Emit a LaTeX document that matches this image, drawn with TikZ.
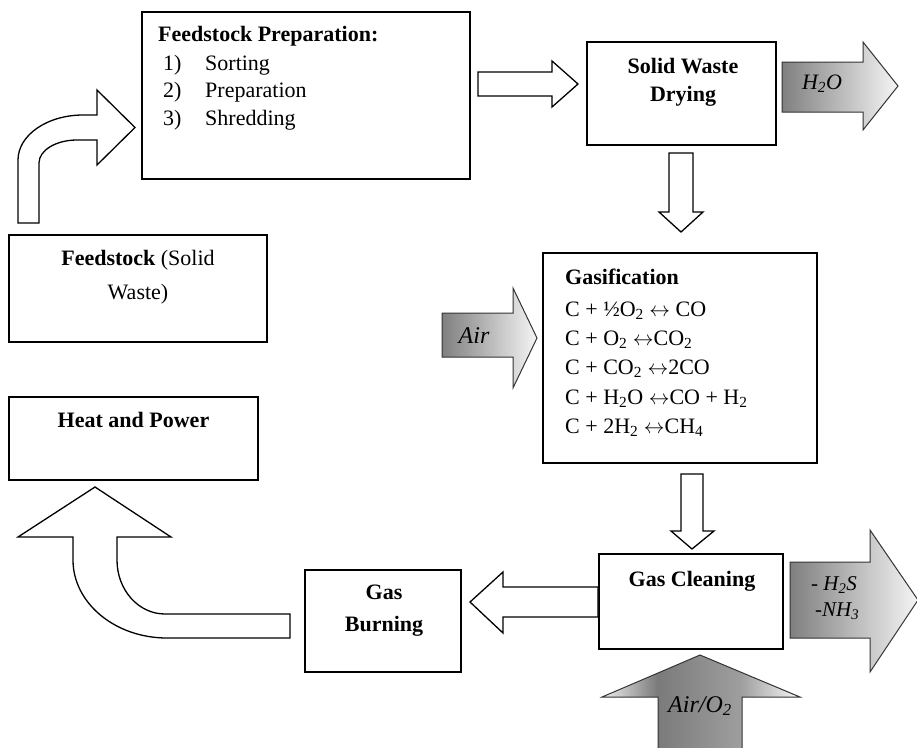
\documentclass[tikz,border=0pt]{standalone}
\usepackage{fontspec}
\setmainfont{Liberation Serif}
\pgfdeclarehorizontalshading{sideshade}{100bp}{color(0bp)=(black!50); color(25bp)=(black!50); color(75bp)=(black!4); color(100bp)=(black!4)}
\pgfdeclarehorizontalshading{airoshade}{100bp}{color(0bp)=(black!6); color(25bp)=(black!6); color(39bp)=(black!52); color(60bp)=(black!38); color(75bp)=(black!3); color(100bp)=(black!3)}
\newcommand\lra{$\leftrightarrow$}
\begin{document}
\begin{tikzpicture}[x=1pt,y=-1pt,
  box/.style={draw=black, line width=1.6pt, inner sep=0pt},
  txt/.style={inner sep=0pt, font=\fontsize{22}{26}\selectfont},
  itxt/.style={inner sep=0pt, font=\fontsize{#1}{#1}\selectfont\itshape},
  warrow/.style={draw=black, fill=white, line width=1.3pt, line join=miter},
  garrow/.style={draw=black!80, line width=1pt, line join=miter, shading=sideshade},
  uarrow/.style={draw=black!80, line width=1pt, line join=miter, shading=airoshade}]
\useasboundingbox (0,0) rectangle (917,747);
\fill[white] (0,0) rectangle (917,747);

% boxes
\node[box, minimum width=328pt, minimum height=167pt] (prep) at (306,95.5) {};
\node[box, minimum width=189pt, minimum height=103pt] (dry) at (681.5,93.5) {};
\node[box, minimum width=274pt, minimum height=210pt] (gas) at (680,358) {};
\node[box, minimum width=258pt, minimum height=107pt] (feed) at (138,288.5) {};
\node[box, minimum width=249pt, minimum height=83pt] (heat) at (133.5,438.5) {};
\node[box, minimum width=156pt, minimum height=102pt] (burn) at (383,621) {};
\node[box, minimum width=184pt, minimum height=95pt] (clean) at (691,601.5) {};

% white block arrows
\draw[warrow] (478,72) -- (552,72) -- (552,61) -- (578,84) -- (552,107) -- (552,96) -- (478,96) -- cycle;
\draw[warrow] (669,153) -- (693,153) -- (693,212) -- (703,212) -- (681,232) -- (659,212) -- (669,212) -- cycle;
\draw[warrow] (681,474) -- (703,474) -- (703,531) -- (714,531) -- (692,549) -- (671,531) -- (681,531) -- cycle;
\draw[warrow] (598,587) -- (503,587) -- (503,572) -- (470,602) -- (503,633) -- (503,617) -- (598,617) -- cycle;
\draw[warrow] (18,223) -- (18,160) .. controls (18,135.2) and (47.1,115) .. (83,115) -- (97,115) -- (97,90) -- (135,127.5) -- (97,165) -- (97,140) -- (77,140) .. controls (56,140) and (39,150.3) .. (39,163) -- (39,223) -- cycle;
\draw[warrow] (95,487) -- (171,537) -- (117,537) -- (117,560) .. controls (117,590) and (138.5,614) .. (165,614) -- (290,614) -- (290,638) -- (167,638) .. controls (115,638) and (73,603) .. (73,560) -- (73,537) -- (18,537) -- cycle;

% shaded block arrows
\path[garrow] (782,62) -- (863,62) -- (863,42) -- (898,86) -- (863,130) -- (863,112) -- (782,112) -- cycle;
\path[garrow] (442,313) -- (513,313) -- (513,288) -- (537,338) -- (513,388) -- (513,357) -- (442,357) -- cycle;
\path[garrow] (790,562) -- (870,562) -- (870,530) -- (918,600) -- (870,672) -- (870,638) -- (790,638) -- cycle;
\path[uarrow] (700,655) -- (800,697) -- (742,697) -- (742,760) -- (658,760) -- (658,697) -- (602,697) -- cycle;

% texts
\node[txt, anchor=base west] (prept) at (158,41.7) {\bfseries Feedstock Preparation:};
\node[txt, anchor=base west] (n1) at (163,70) {1)};
\node[txt, anchor=base west] (i1) at (205,70) {Sorting};
\node[txt, anchor=base west] (n2) at (163,97.3) {2)};
\node[txt, anchor=base west] (i2) at (205,97.3) {Preparation};
\node[txt, anchor=base west] (n3) at (163,125) {3)};
\node[txt, anchor=base west] (i3) at (205,125) {Shredding};

\node[txt, anchor=base] (dryt1) at (683,73.3) {\bfseries Solid Waste};
\node[txt, anchor=base] (dryt2) at (683,101.7) {\bfseries Drying};

\node[txt, anchor=base west] (gast) at (565,284.3) {\bfseries Gasification};
\node[txt, anchor=base west] (e1) at (565,316.7) {C + ½O\textsubscript{2} \lra{} CO};
\node[txt, anchor=base west] (e2) at (565,345.7) {C + O\textsubscript{2} \lra CO\textsubscript{2}};
\node[txt, anchor=base west] (e3) at (565,374.7) {C + CO\textsubscript{2} \lra 2CO};
\node[txt, anchor=base west] (e4) at (565,404) {C + H\textsubscript{2}O \lra CO + H\textsubscript{2}};
\node[txt, anchor=base west] (e5) at (565,433) {C + 2H\textsubscript{2} \lra CH\textsubscript{4}};

\node[txt, anchor=base] (feedt1) at (138,265.7) {\textbf{Feedstock} (Solid};
\node[txt, anchor=base] (feedt2) at (138,299) {Waste)};
\node[txt, anchor=base] (heatt) at (133.5,427.7) {\bfseries Heat and Power};
\node[txt, anchor=base] (burnt1) at (384,599.3) {\bfseries Gas};
\node[txt, anchor=base] (burnt2) at (384,631.7) {\bfseries Burning};
\node[txt, anchor=base] (cleant) at (692,586) {\bfseries Gas Cleaning};

\node[itxt=22, anchor=base] (h2o) at (822,89.3) {H\textsubscript{2}O};
\node[itxt=24, anchor=base] (air) at (474,343.3) {Air};
\node[itxt=21, anchor=base west] (h2s) at (811,590) {- H\textsubscript{2}S};
\node[itxt=21, anchor=base west] (nh3) at (815,616) {-NH\textsubscript{3}};
\node[itxt=24, anchor=base] (airo) at (700,712) {Air/O\textsubscript{2}};
\end{tikzpicture}
\end{document}
